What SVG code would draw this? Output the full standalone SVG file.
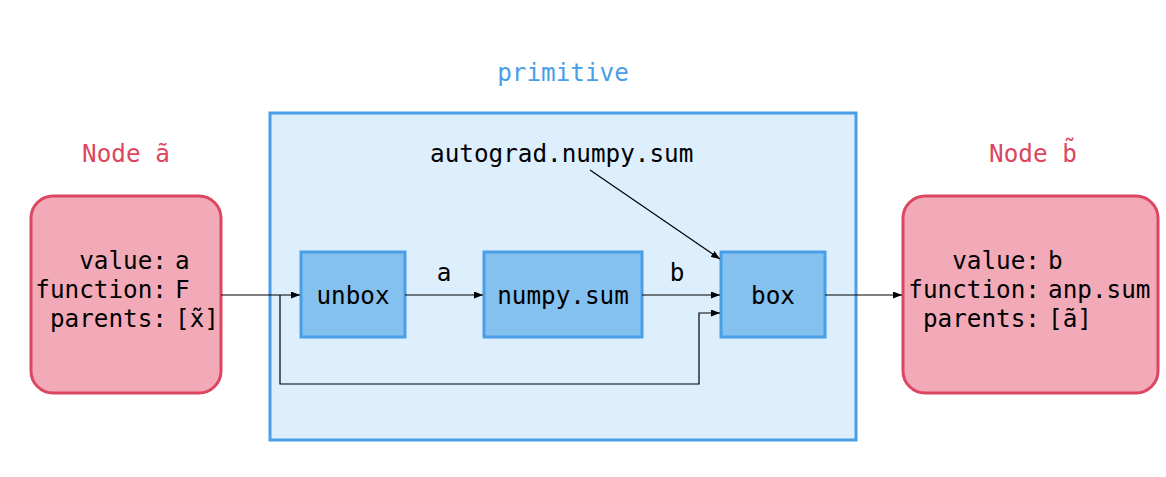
<svg xmlns="http://www.w3.org/2000/svg" width="1166" height="477" viewBox="0 0 1166 477">
<style>
text{font-family:"DejaVu Sans Mono","Liberation Mono",monospace;font-size:24.3px;fill:#000}
.title{fill:#dc4660}
.ptitle{fill:#4a9ee8}
.node{fill:#f2aab8;stroke:#dc4660;stroke-width:3}
.prim{fill:#ddeefc;stroke:#4a9ee8;stroke-width:3}
.op{fill:#84c1ef;stroke:#4a9ee8;stroke-width:3}
.c{fill:none;stroke:#000;stroke-width:1.2}
.r{text-anchor:end}
.m{text-anchor:middle}
</style>
<defs>
<marker id="ah" markerWidth="9" markerHeight="7" refX="9" refY="3.5" orient="auto" markerUnits="userSpaceOnUse">
<path d="M0,0 L9,3.5 L0,7 z" fill="#000"/>
</marker>
</defs>
<g id="primitive">
<rect class="prim" x="270" y="113" width="586" height="327"/>
<text class="ptitle m" x="563" y="81">primitive</text>
<text x="430" y="162">autograd.numpy.sum</text>
</g>
<g id="nodeA">
<text class="title m" x="126" y="162">Node ã</text>
<rect class="node" x="31" y="196" width="190" height="197" rx="22"/>
<text class="r" x="167" y="269">value:</text><text x="175" y="269">a</text>
<text class="r" x="167" y="298">function:</text><text x="175" y="298">F</text>
<text class="r" x="167" y="327">parents:</text><text x="175" y="327">[x̃]</text>
</g>
<g id="nodeB">
<text class="title m" x="1033" y="162">Node b̃</text>
<rect class="node" x="903" y="196" width="255" height="197" rx="22"/>
<text class="r" x="1040" y="269">value:</text><text x="1048" y="269">b</text>
<text class="r" x="1040" y="298">function:</text><text x="1048" y="298">anp.sum</text>
<text class="r" x="1040" y="327">parents:</text><text x="1048" y="327">[ã]</text>
</g>
<g id="unbox">
<rect class="op" x="301" y="252" width="104" height="85"/>
<text class="m" x="353" y="304">unbox</text>
</g>
<g id="numpysum">
<rect class="op" x="484" y="252" width="158" height="85"/>
<text class="m" x="563" y="304">numpy.sum</text>
</g>
<g id="box">
<rect class="op" x="721" y="252" width="104" height="85"/>
<text class="m" x="773" y="304">box</text>
</g>
<g id="connectors">
<path class="c" d="M221,295 L300,295" marker-end="url(#ah)"/>
<path class="c" d="M280,295 L280,384 L699,384 L699,313 L720,313" marker-end="url(#ah)"/>
<path class="c" d="M405,295 L483,295" marker-end="url(#ah)"/>
<path class="c" d="M642,295 L720,295" marker-end="url(#ah)"/>
<path class="c" d="M590,170 L720,259" marker-end="url(#ah)"/>
<path class="c" d="M825,295 L902,295" marker-end="url(#ah)"/>
<text class="m" x="444" y="281">a</text>
<text class="m" x="677" y="281">b</text>
</g>
</svg>
